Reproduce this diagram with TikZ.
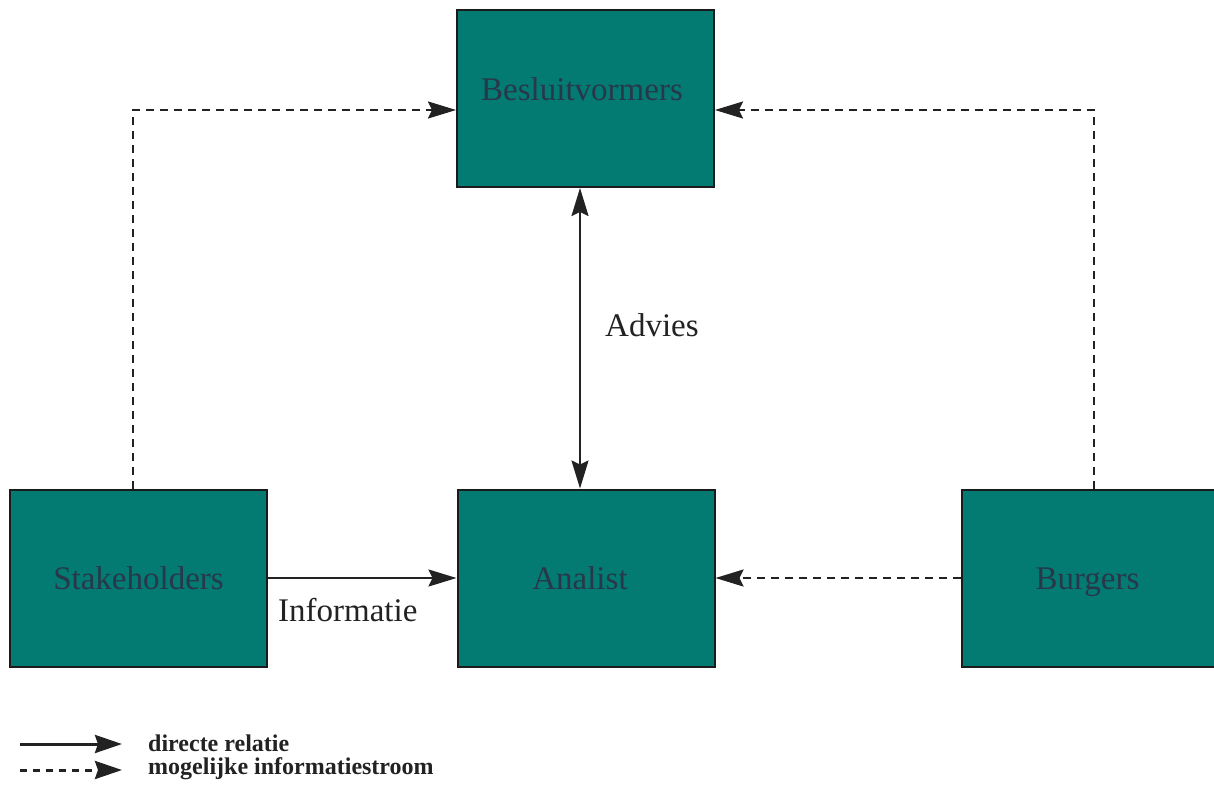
\documentclass[tikz,border=0pt]{standalone}
\usepackage{fontspec}
\setmainfont{Liberation Serif}
\usetikzlibrary{arrows.meta,calc}
\definecolor{boxteal}{RGB}{3,122,114}
\definecolor{boxtext}{RGB}{40,56,74}
\definecolor{ink}{RGB}{34,34,34}
\begin{document}
\begin{tikzpicture}[x=1pt,y=-1pt,
  actor/.style={draw=ink!80!black,line width=2pt,fill=boxteal,
    minimum width=257pt,minimum height=177pt,inner sep=0pt,
    text height=28pt,text depth=6pt,
    text=boxtext,font=\fontsize{33}{38}\selectfont},
  lbl/.style={text=ink,font=\fontsize{33}{38}\selectfont,inner sep=0pt},
  leg/.style={text=ink,font=\bfseries\fontsize{24}{28}\selectfont,inner sep=0pt,anchor=west},
  tip/.style={-{Stealth[length=28pt,width=17pt,inset=4pt]}},
  direct/.style={draw=ink,line width=2pt,tip},
  maybe/.style={draw=ink,line width=2pt,dash pattern=on 8pt off 6pt,tip},
  both/.style={draw=ink,line width=2pt,
    {Stealth[length=28pt,width=17pt,inset=4pt]}-{Stealth[length=28pt,width=17pt,inset=4pt]}},
  legtip/.style={-{Stealth[length=27pt,width=18pt,inset=3pt]}},
  legdirect/.style={draw=ink,line width=3pt,legtip},
  legmaybe/.style={draw=ink,line width=3pt,dash pattern=on 7pt off 6pt,legtip}]
\useasboundingbox (0,0) rectangle (1214,792);
\clip (0,0) rectangle (1214,792);
\fill[white] (0,0) rectangle (1214,792);

% actors
\node[actor] (besl) at (585.5,98.5) {};
\node[text=boxtext,font=\fontsize{33}{38}\selectfont,inner sep=0pt] (beslt) at (582,89) {Besluitvormers};
\node[actor] (stake) at (138.5,578) {Stakeholders};
\node[actor] (anal) at (586,578) {\hspace*{-12pt}Analist};
\node[actor] (burg) at (1090.5,578) {\hspace*{-6pt}Burgers};

% relations
\draw[both] (besl.south -| 580,0) -- (anal.north -| 580,0);
\draw[direct] (stake.east) -- (anal.west);
\draw[maybe] (burg.west) -- (anal.west -| anal.east);
\draw[maybe] ($(stake.north)+(-6,0)$) |- ($(besl.west)+(0,11.5)$);
\draw[maybe] ($(burg.north)+(3.5,0)$) |- ($(besl.east)+(0,11.5)$);

% labels
\node[lbl,anchor=west] (advies) at (605,325) {Advies};
\node[lbl,anchor=west] (info) at (278,610) {Informatie};

% legend
\coordinate (l1a) at (20,744);
\coordinate (l1b) at (122,744);
\coordinate (l2a) at (20,770);
\coordinate (l2b) at (122,770);
\draw[legdirect] (l1a) -- (l1b);
\draw[legmaybe] (l2a) -- (l2b);
\node[leg] (leg1) at (148,743) {directe relatie};
\node[leg] (leg2) at (148,769) {mogelijke informatiestroom};
\end{tikzpicture}
\end{document}
